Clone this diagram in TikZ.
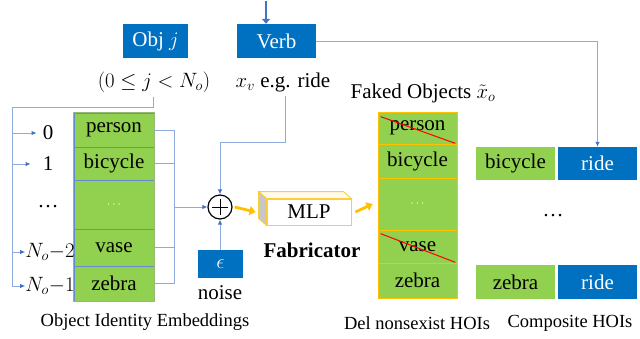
\documentclass[tikz,border=0pt]{standalone}
\usepackage{fontspec}
\setmainfont{Liberation Serif}
\usetikzlibrary{arrows.meta,calc}
\definecolor{boxblue}{RGB}{0,112,192}
\definecolor{boxgreen}{RGB}{146,208,80}
\definecolor{lineblue}{RGB}{143,170,220}
\definecolor{tipblue}{RGB}{68,114,196}
\definecolor{gold}{RGB}{255,192,0}
\definecolor{mlpedge}{RGB}{255,205,60}
\definecolor{mlptop}{RGB}{255,250,235}
\definecolor{divider}{RGB}{100,140,205}
\definecolor{outergreen}{RGB}{150,185,120}
\tikzset{
  big/.style={font=\fontsize{21}{25}\selectfont},
  captxt/.style={font=\fontsize{18.5}{22}\selectfont},
  bluebox/.style={big,fill=boxblue,text=white,inner sep=0pt,minimum width=#1,minimum height=34},
  lcell/.style={big,fill=boxgreen,draw=divider,line width=0.6pt,inner sep=0pt,minimum width=80,minimum height=#1},
  rcell/.style={big,fill=boxgreen,draw=gold,line width=0.7pt,inner sep=0pt,minimum width=79,minimum height=#1},
  gcell/.style={big,fill=boxgreen,inner sep=0pt,minimum width=79,minimum height=#1},
  conn/.style={draw=lineblue,line width=0.9pt},
  arr/.style={conn,-{Latex[length=5pt,width=4.5pt,color=tipblue]}},
  orarr/.style={draw=gold,line width=2.8pt,-{Triangle[length=6pt,width=9pt]}},
  strike/.style={draw=red,line width=1pt},
  lbl/.style={big,inner sep=1pt},
}
\begin{document}
\begin{tikzpicture}[x=1pt,y=-1pt]
\useasboundingbox (0,0) rectangle (640,338);
% top boxes
\node[bluebox=65] (obj) at (155.5,41) {Obj $j$};
\node[bluebox=79] (verb) at (276.5,41) {Verb};
\node[big,inner sep=0pt] (range) at (154,82) {$(0\leq j<N_o)$};
\node[big,inner sep=0pt] (xv) at (283,82) {$x_v$ e.g. ride};
\coordinate (vin) at (266,1);
\draw[draw=tipblue,line width=2.2pt,-{Triangle[length=5pt,width=8pt]}] (vin) -- (vin |- verb.north);
% left stack
\node[lcell=34] (L0) at (114,130) {person};
\node[lcell=33] (L1) at (114,163.5) {bicycle};
\node[lcell=49] (L2) at (114,204.5) {\textcolor{white}{\fontsize{12}{14}\selectfont$\cdots$}};
\node[lcell=37] (L3) at (114,247.5) {vase};
\node[lcell=35] (L4) at (114,283.5) {zebra};
\draw[draw=outergreen,line width=0.8pt] (L0.north west) rectangle (L4.south east);
% left index labels
\node[lbl] (n0) at (48,133) {0};
\node[lbl] (n1) at (48,164) {1};
\node[lbl] (n2) at (48,207) {\ldots};
\node[lbl,inner sep=0pt] (n3) at (50,252) {$N_o{-}2$};
\node[lbl,inner sep=0pt] (n4) at (50,286) {$N_o{-}1$};
\coordinate (trunk) at (12,107);
\draw[conn] ([xshift=-1pt]range.south) ++(0,4) |- (trunk) -- (trunk |- n4);
\draw[arr] (trunk |- n0) -- ([xshift=-5pt]n0.west);
\draw[arr] (trunk |- n1) -- ([xshift=-11pt]n1.west);
\draw[arr] (trunk |- n3) -- (n3.west);
\draw[arr] (trunk |- n4) -- (n4.west);
\node[captxt] (capL) at (145,322) {Object Identity Embeddings};
% bus to plus
\coordinate (bus) at (174,207);
\draw[conn] (L0.east) -| (bus);
\draw[conn] (L1.east) -| (bus);
\draw[conn] (L3.east) -| (bus);
\draw[conn] (L4.east) -| (bus);
\node[circle,draw=black,line width=1.2pt,minimum size=24,inner sep=0pt] (plus) at (220,207) {};
\draw[line width=1pt] ([xshift=-8pt]plus.center) -- ([xshift=8pt]plus.center)
  ([yshift=-8pt]plus.center) -- ([yshift=8pt]plus.center);
\draw[arr] (bus) -- (plus.west);
\coordinate (xvturn) at (285,142);
\draw[arr] (xv.south -| xvturn) ++(0,4) -- (xvturn) -| (plus.north);
\node[bluebox=45,minimum height=28] (eps) at (220.5,264) {$\epsilon$};
\node[big,inner sep=0pt] (noise) at (220,293) {noise};
\draw[arr] (eps.north -| plus) -- (plus.south);
% MLP
\node[big,draw=mlpedge,fill=white,line width=0.9pt,minimum width=84,minimum height=26,inner sep=0pt] (mlp) at (309,212) {MLP};
\draw[draw=mlpedge,fill=mlptop,line width=0.9pt] (mlp.north west) -- ++(-8,-7) -- ($(mlp.north east)+(-8,-7)$) -- (mlp.north east) -- cycle;
\draw[draw=mlpedge,fill=black!22,line width=0.9pt] (mlp.north west) -- ++(-8,-7) -- ($(mlp.south west)+(-8,-7)$) -- (mlp.south west) -- cycle;
\node[big,font=\fontsize{21}{25}\selectfont\bfseries] (fab) at (312,250) {Fabricator};
\draw[orarr] ([xshift=2pt]plus.east) -- ([xshift=-11pt]mlp.west);
% right stack
\node[big,inner sep=0pt] (faked) at (423,93) {Faked Objects $\tilde{x}_o$};
\node[rcell=32] (R0) at (417.5,128) {person};
\node[rcell=34] (R1) at (417.5,161) {bicycle};
\node[rcell=52] (R2) at (417.5,204) {\textcolor{white}{\fontsize{12}{14}\selectfont$\cdots$}};
\node[rcell=33] (R3) at (417.5,246.5) {vase};
\node[rcell=35] (R4) at (417.5,280.5) {zebra};
\draw[strike] ([shift={(3,5)}]R0.north west) -- ([shift={(-2,-1)}]R0.south east);
\draw[strike] ([shift={(3,4)}]R3.north west) -- ([shift={(-2,-1)}]R3.south east);
\draw[orarr] ([xshift=4pt]mlp.east) -- ([xshift=-5pt]R2.west);
\node[captxt] (capD) at (417,323) {Del nonsexist HOIs};
% composite
\node[gcell=33] (C1) at (515.5,163.5) {bicycle};
\node[bluebox=79,minimum height=33] (B1) at (597.5,163.5) {ride};
\node[big] (cdots) at (553,216) {\ldots};
\node[gcell=34] (C2) at (515.5,282) {zebra};
\node[bluebox=79,minimum height=34] (B2) at (597.5,282) {ride};
\node[captxt] (capC) at (570,323) {Composite HOIs};
\draw[arr] (verb.east) -| (B1.north);
\end{tikzpicture}
\end{document}
